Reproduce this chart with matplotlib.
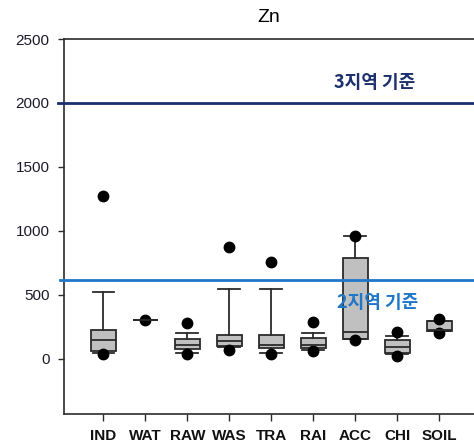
import matplotlib
matplotlib.use("Agg")
import matplotlib.pyplot as plt

plt.rcParams['font.family'] = ['Liberation Sans', 'DejaVu Sans']

categories = ["IND", "WAT", "RAW", "WAS", "TRA", "RAI", "ACC", "CHI", "SOIL"]
whisker_low = [48, 301, 48, 90, 48, 72, 158, 42, 215]
q1 = [64, 301, 74, 98, 88, 82, 158, 45, 215]
median = [145, 301, 113, 137, 111, 113, 212, 90, 223]
q3 = [230, 301, 155, 189, 189, 163, 785, 152, 298]
whisker_high = [527, 301, 205, 545, 543, 205, 962, 178, 298]
outliers = [[37, 1270], [301], [40, 283], [72, 876], [37, 756],
            [59, 288], [145, 962], [22, 210], [205, 314]]

limit_zone2 = 620
limit_zone3 = 2000
yticks = [0, 500, 1000, 1500, 2000, 2500]

stats = []
for i, name in enumerate(categories):
    stats.append(dict(label=name, whislo=whisker_low[i], q1=q1[i], med=median[i],
                      q3=q3[i], whishi=whisker_high[i], fliers=outliers[i]))

fig = plt.figure(figsize=(4.74, 4.48), dpi=100)
ax = fig.add_axes([64 / 474, 1 - 414 / 448, 1 - 64 / 474, (414 - 39) / 448])

edge = "#2b2b2b"
ax.bxp(stats, positions=range(1, len(categories) + 1), widths=0.6,
       capwidths=0.52, patch_artist=True, showfliers=True,
       boxprops=dict(facecolor="#c0c0c0", edgecolor=edge, linewidth=1.3),
       medianprops=dict(color=edge, linewidth=1.3),
       whiskerprops=dict(color=edge, linewidth=1.3),
       capprops=dict(color=edge, linewidth=1.3),
       flierprops=dict(marker="o", markerfacecolor="black", markeredgecolor="black",
                       markersize=7.5, linestyle="none"))

ax.axhline(limit_zone3, xmin=-0.015, xmax=1, color="#1c2f6e", linewidth=2, clip_on=False, zorder=3)
ax.axhline(limit_zone2, xmin=-0.01, xmax=1, color="#1f77c8", linewidth=2, clip_on=False, zorder=3)

ax.text(7.46, 2160, "3지역 기준", ha="center", va="center", fontsize=13,
        fontweight="bold", color="#1c2f6e",
        family=['Noto Sans CJK KR', 'DejaVu Sans'])
ax.text(7.53, 444, "2지역 기준", ha="center", va="center", fontsize=13,
        fontweight="bold", color="#1f77c8",
        family=['Noto Sans CJK KR', 'DejaVu Sans'], zorder=4)

ax.set_xlim(0.06, 9.83)
ax.set_ylim(-430, 2500)
ax.set_yticks(yticks)
ax.set_yticklabels([str(v) for v in yticks], fontsize=11, color="#1a1a2a")
ax.set_xticks(range(1, len(categories) + 1))
ax.set_xticklabels(categories, fontsize=11, fontweight="bold", color="#111111")
ax.tick_params(axis="y", direction="out", length=4.5, width=1, pad=6, color=edge)
ax.tick_params(axis="x", direction="out", length=5, width=1, pad=6, color=edge)

for side in ("left", "bottom", "top"):
    ax.spines[side].set_color(edge)
    ax.spines[side].set_linewidth(1.2)
ax.spines["right"].set_visible(False)

ax.set_title("Zn", fontsize=14, pad=12)

fig.savefig("out.png", dpi=100)
